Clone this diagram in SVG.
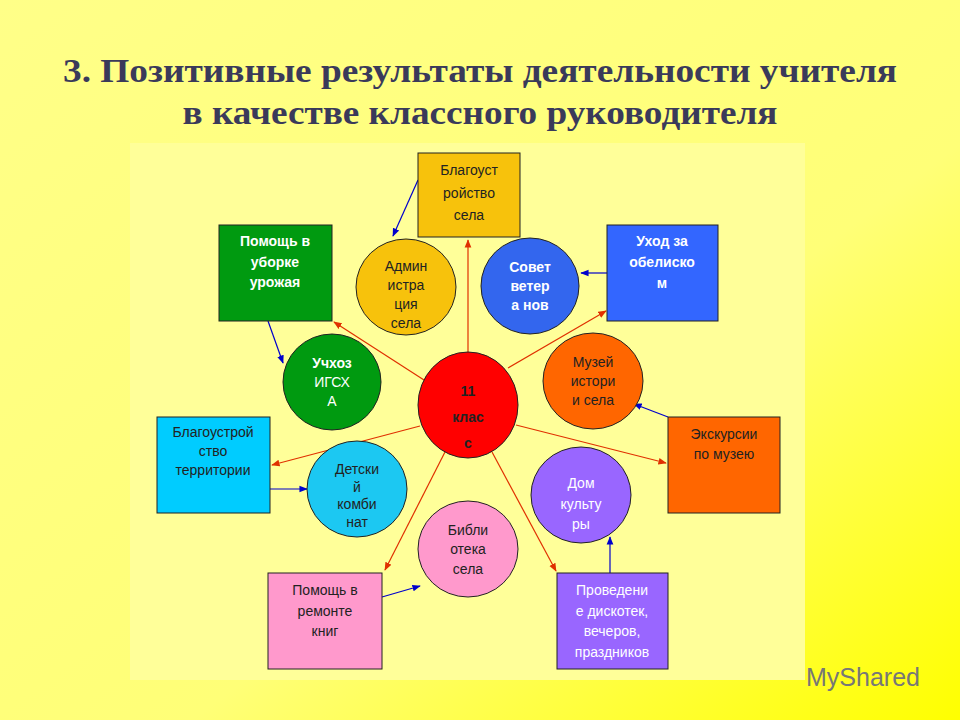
<svg xmlns="http://www.w3.org/2000/svg" width="960" height="720" viewBox="0 0 960 720">
<defs>
<linearGradient id="bg" x1="0" y1="0" x2="1" y2="1">
<stop offset="0" stop-color="#FFFF88"/><stop offset="0.6" stop-color="#FFFF77"/><stop offset="1" stop-color="#FFFF00"/>
</linearGradient>
<marker id="ar" viewBox="0 0 10 10" refX="9" refY="5" markerWidth="7" markerHeight="7" orient="auto"><path d="M0,1 L10,5 L0,9 z" fill="#E03000"/></marker>
<marker id="ab" viewBox="0 0 10 10" refX="9" refY="5" markerWidth="7" markerHeight="7" orient="auto"><path d="M0,1 L10,5 L0,9 z" fill="#0000CC"/></marker>
<style>
.t{font-family:"Liberation Sans",Arial,sans-serif;font-size:14px;text-anchor:middle;fill:#222}
.w{fill:#fff}
.b{font-weight:bold}
.s{stroke:#222;stroke-width:1}
.r{stroke:#E03000;stroke-width:1.2;fill:none;marker-end:url(#ar)}
.u{stroke:#0000CC;stroke-width:1.2;fill:none;marker-end:url(#ab)}
</style>
</defs>
<rect width="960" height="720" fill="url(#bg)"/>
<rect x="130" y="143" width="675" height="537" fill="#FFFF99"/>
<g font-family="Liberation Serif,serif" font-weight="bold" font-size="34" fill="#3A3A5A" text-anchor="middle">
<text x="480" y="82" textLength="834" lengthAdjust="spacingAndGlyphs">3. Позитивные результаты деятельности учителя</text>
<text x="480" y="124" textLength="595" lengthAdjust="spacingAndGlyphs">в качестве классного руководителя</text>
</g>
<g id="connectors">
<line class="r" x1="468" y1="352" x2="468" y2="240"/>
<line class="r" x1="424" y1="380" x2="334" y2="322"/>
<line class="r" x1="508" y1="368" x2="606" y2="311"/>
<line class="r" x1="420" y1="426" x2="272" y2="465"/>
<line class="r" x1="516" y1="425" x2="666" y2="463"/>
<line class="r" x1="445" y1="452" x2="385" y2="570"/>
<line class="r" x1="492" y1="452" x2="556" y2="571"/>
<line class="u" x1="418" y1="180" x2="393" y2="236"/>
<line class="u" x1="268" y1="321" x2="283" y2="363"/>
<line class="u" x1="607" y1="273" x2="581" y2="273"/>
<line class="u" x1="668" y1="417" x2="634" y2="404"/>
<line class="u" x1="270" y1="489" x2="307" y2="489"/>
<line class="u" x1="382" y1="597" x2="420" y2="586"/>
<line class="u" x1="610" y1="573" x2="610" y2="537"/>
</g>
<g id="n1"><rect class="s" x="418" y="153" width="102" height="84" fill="#F7C20C"/><text class="t" x="469" y="175" font-size="15">Благоуст</text><text class="t" x="469" y="198" font-size="15">ройство</text><text class="t" x="469" y="220" font-size="15">села</text></g>
<g id="n2"><rect class="s" x="219" y="225" width="113" height="96" fill="#009A10"/><text class="t w b" x="275" y="246">Помощь в</text><text class="t w b" x="275" y="267">уборке</text><text class="t w b" x="275" y="287">урожая</text></g>
<g id="n3"><rect class="s" x="607" y="225" width="111" height="96" fill="#3366FF"/><text class="t w b" x="662" y="246">Уход за</text><text class="t w b" x="662" y="267">обелиско</text><text class="t w b" x="662" y="288">м</text></g>
<g id="n4"><ellipse class="s" cx="406" cy="287" rx="50" ry="48" fill="#F7C20C"/><text class="t" x="406" y="271">Админ</text><text class="t" x="406" y="290">истра</text><text class="t" x="406" y="309">ция</text><text class="t" x="406" y="328">села</text></g>
<g id="n5"><ellipse class="s" cx="530" cy="286" rx="49" ry="48" fill="#3366EE"/><text class="t w b" x="530" y="272">Совет</text><text class="t w b" x="530" y="291">ветер</text><text class="t w b" x="530" y="310">а нов</text></g>
<g id="n6"><ellipse class="s" cx="332" cy="382" rx="49" ry="48" fill="#009A10"/><text class="t w b" x="332" y="368">Учхоз</text><text class="t w" x="332" y="387">ИГСХ</text><text class="t w" x="332" y="406">А</text></g>
<g id="n7"><ellipse class="s" cx="468" cy="405" rx="50" ry="53" fill="#FF0000"/><text class="t b" x="468" y="396" font-size="20">11</text><text class="t b" x="468" y="422" font-size="20">клас</text><text class="t b" x="468" y="448" font-size="20">с</text></g>
<g id="n8"><ellipse class="s" cx="593" cy="381" rx="50" ry="48" fill="#FF6600"/><text class="t" x="593" y="367">Музей</text><text class="t" x="593" y="386">истори</text><text class="t" x="593" y="405">и села</text></g>
<g id="n9"><rect class="s" x="157" y="417" width="113" height="96" fill="#00CCFF"/><text class="t" x="213" y="437">Благоустрой</text><text class="t" x="213" y="456">ство</text><text class="t" x="213" y="475">территории</text></g>
<g id="n10"><rect class="s" x="668" y="417" width="112" height="96" fill="#FF6600"/><text class="t" x="724" y="439">Экскурсии</text><text class="t" x="724" y="459">по музею</text></g>
<g id="n11"><ellipse class="s" cx="357" cy="489" rx="50" ry="48" fill="#1CC8F2"/><text class="t" x="357" y="474">Детски</text><text class="t" x="357" y="492">й</text><text class="t" x="357" y="509">комби</text><text class="t" x="357" y="527">нат</text></g>
<g id="n12"><ellipse class="s" cx="581" cy="495" rx="50" ry="48" fill="#9966FF"/><text class="t w" x="581" y="488">Дом</text><text class="t w" x="581" y="509">культу</text><text class="t w" x="581" y="529">ры</text></g>
<g id="n13"><ellipse class="s" cx="468" cy="549" rx="50" ry="48" fill="#FF99CC"/><text class="t" x="468" y="535">Библи</text><text class="t" x="468" y="554">отека</text><text class="t" x="468" y="574">села</text></g>
<g id="n14"><rect class="s" x="268" y="573" width="114" height="96" fill="#FF99CC"/><text class="t" x="325" y="595">Помощь в</text><text class="t" x="325" y="616">ремонте</text><text class="t" x="325" y="636">книг</text></g>
<g id="n15"><rect class="s" x="557" y="573" width="111" height="96" fill="#9966FF"/><text class="t w" x="612" y="595">Проведени</text><text class="t w" x="612" y="616">е дискотек,</text><text class="t w" x="612" y="636">вечеров,</text><text class="t w" x="612" y="657">праздников</text></g>
<text x="806" y="686" font-family="Liberation Sans,Arial,sans-serif" font-size="25" fill="#777">MyShared</text>
</svg>
